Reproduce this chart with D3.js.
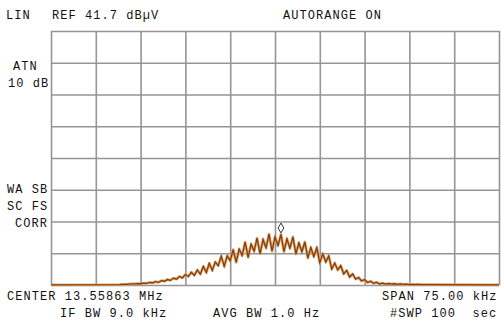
<!DOCTYPE html>
<html>
<head>
<meta charset="utf-8">
<script src="https://cdn.jsdelivr.net/npm/d3@7"></script>
<style>
  body { margin: 0; background: #fff; }
  svg { display: block; }
  .lbl { font-family: "Liberation Mono", "DejaVu Sans Mono", monospace; font-size: 12px; letter-spacing: 1.05px; fill: #111; }
</style>
</head>
<body>
<div class="svg-content"></div>
<script>
// spectrum analyser sweep, LIN scale, ref 41.7 dBuV (= 121.6 uV)
const refLevel = 121.6;
const spanKHz = 75;
const xDivisions = 10;
const yDivisions = 8;

// sweep samples: start offset, step (kHz from centre) and level (uV)
const sweepStart = -26;
const sweepStep = 0.5;
const levels = [
  0.2, 0.3, 0.3, 0.4, 0.5, 0.5, 0.7, 0.6, 0.9, 0.8,
  1.2, 1.0, 1.6, 1.3, 2.1, 1.8, 2.6, 2.2, 3.3, 2.8,
  4.1, 3.4, 5.0, 4.1, 6.1, 4.6, 7.2, 5.2, 8.9, 6.0,
  10.4, 7.0, 11.0, 9.3, 13.8, 8.9, 14.0, 11.6, 16.9, 10.8,
  17.2, 14.1, 20.5, 13.2, 19.6, 16.2, 22.4, 14.9, 21.8, 17.8,
  24.4, 16.2, 23.0, 18.9, 24.2, 16.0, 22.1, 17.6, 23.0, 14.8,
  20.2, 15.9, 20.6, 12.9, 18.0, 13.6, 17.9, 10.6, 15.0, 11.0,
  13.9, 7.6, 10.5, 7.2, 9.3, 5.3, 7.0, 3.8, 5.3, 2.8,
  3.6, 1.9, 2.6, 1.2, 1.8, 0.8, 1.3, 0.5, 0.9, 0.4,
  0.7, 0.4, 0.6, 0.3, 0.5, 0.3, 0.4, 0.2, 0.3, 0.2,
  0.3, 0.2, 0.2, 0.2, 0.2
];
const edgeLevel = 0.1;

// marker
const markerKHz = 1.0;
const markerLevel = 27.3;

const topLabels = [
  { text: "LIN", x: 6, y: 19 },
  { text: "REF 41.7 dBµV", x: 52, y: 19 },
  { text: "AUTORANGE ON", x: 283, y: 19 }
];
const sideLabels = [
  { text: "ATN", x: 13, y: 70 },
  { text: "10 dB", x: 8, y: 87 },
  { text: "WA SB", x: 7, y: 193 },
  { text: "SC FS", x: 7, y: 210 },
  { text: "CORR", x: 15, y: 227 }
];
const bottomLabels = [
  { text: "CENTER 13.55863 MHz", x: 7, y: 300 },
  { text: "SPAN 75.00 kHz", x: 382, y: 300 },
  { text: "IF BW 9.0 kHz", x: 60, y: 317 },
  { text: "AVG BW 1.0 Hz", x: 213, y: 317 },
  { text: "#SWP 100  sec", x: 390, y: 317 }
];

const svgWidth = 501;
const svgHeight = 326;
const plotLeft = 51, plotRight = 499, plotTop = 31, plotBottom = 285;

const xScale = d3.scaleLinear()
                 .domain([-spanKHz / 2, spanKHz / 2])
                 .range([plotLeft, plotRight]);

const yScale = d3.scaleLinear()
                 .domain([0, refLevel])
                 .range([plotBottom, plotTop]);

const svg = d3.select(".svg-content")
              .append("svg")
              .attr("width", svgWidth)
              .attr("height", svgHeight);

// graticule
const xTicks = d3.range(xDivisions + 1).map(i => -spanKHz / 2 + i * spanKHz / xDivisions);
const yTicks = d3.range(yDivisions + 1).map(i => i * refLevel / yDivisions);

const gridX = svg.append("g")
                 .attr("transform", "translate(0," + plotBottom + ")")
                 .call(d3.axisBottom(xScale).tickValues(xTicks).tickSize(-(plotBottom - plotTop)).tickFormat(""));
const gridY = svg.append("g")
                 .attr("transform", "translate(" + plotLeft + ",0)")
                 .call(d3.axisLeft(yScale).tickValues(yTicks).tickSize(-(plotRight - plotLeft)).tickFormat(""));
[gridX, gridY].forEach(g => {
  g.select(".domain").remove();
  g.selectAll("line").attr("stroke", "#959595").attr("stroke-width", 1.6);
});

// trace
const trace = [[-spanKHz / 2, edgeLevel]]
  .concat(levels.map((v, i) => [sweepStart + i * sweepStep, v]))
  .concat([[spanKHz / 2, edgeLevel]]);

const line = d3.line()
               .x(d => xScale(d[0]))
               .y(d => yScale(d[1]));

svg.append("path")
   .datum(trace)
   .attr("d", line)
   .attr("fill", "none")
   .attr("stroke", "#d9a878")
   .attr("stroke-width", 2.8)
   .attr("stroke-linejoin", "round");

svg.append("path")
   .datum(trace)
   .attr("d", line)
   .attr("fill", "none")
   .attr("stroke", "#8a3f05")
   .attr("stroke-width", 1.3);

svg.append("path")
   .attr("d", d3.symbol(d3.symbolDiamond, 28)())
   .attr("transform", "translate(" + xScale(markerKHz) + "," + yScale(markerLevel) + ")")
   .attr("fill", "#fff")
   .attr("stroke", "#333")
   .attr("stroke-width", 1);

// annotation text
svg.selectAll("text.lbl")
   .data(topLabels.concat(sideLabels, bottomLabels))
   .enter()
   .append("text")
   .attr("class", "lbl")
   .attr("x", d => d.x)
   .attr("y", d => d.y)
   .attr("xml:space", "preserve")
   .style("white-space", "pre")
   .text(d => d.text);
</script>
</body>
</html>
